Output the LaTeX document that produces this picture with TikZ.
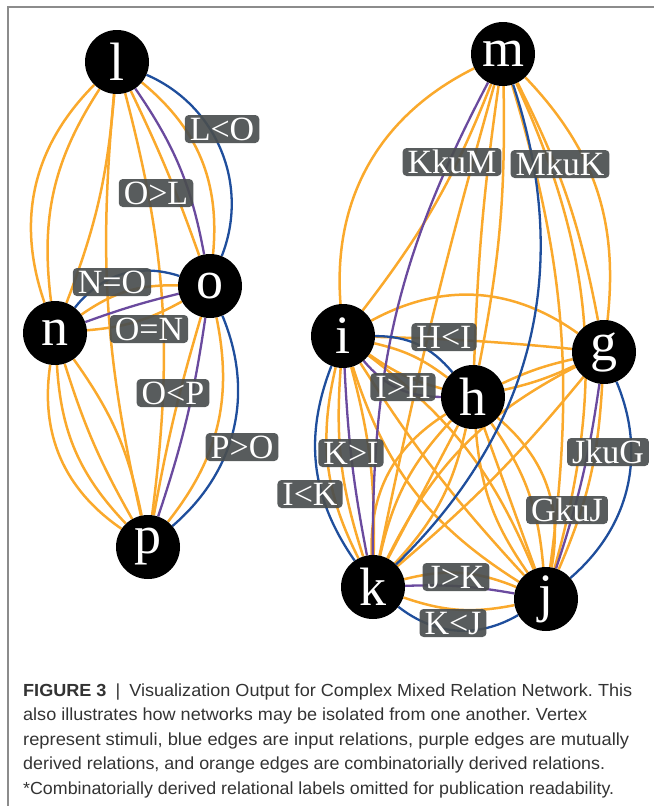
\documentclass[tikz,border=0pt]{standalone}
\usepackage{fontspec}
\setmainfont{Liberation Serif}
\newfontfamily\capfont{Liberation Sans}
\definecolor{eorange}{HTML}{FAA92C}
\definecolor{eblue}{HTML}{1F4E9C}
\definecolor{epurple}{HTML}{6A4A9E}
\definecolor{lblgray}{HTML}{4A4E4F}
\definecolor{framegray}{HTML}{8C8C8C}
\definecolor{captext}{HTML}{333333}
\pgfdeclarelayer{bg}
\pgfsetlayers{bg,main}
\frenchspacing
\begin{document}
\begin{tikzpicture}[x=1pt,y=-1pt,
  vtx/.style={circle,fill=black,minimum size=64pt,inner sep=0pt,text=white,font=\fontsize{54}{54}\selectfont},
  lbl/.style={fill=lblgray,fill opacity=0.92,text opacity=1,text=white,rounded corners=4pt,inner xsep=5pt,inner ysep=2.5pt,text height=23pt,text depth=0pt,font=\fontsize{34}{34}\selectfont},
  oe/.style={draw=eorange,line width=2.5pt},
  be/.style={draw=eblue,line width=2.3pt},
  pe/.style={draw=epurple,line width=2.3pt},
  capline/.style={anchor=base west,inner sep=0pt,text=captext,font=\capfont\fontsize{17.5}{20}\selectfont},
]
\useasboundingbox (0,0) rectangle (654,806);
\draw[framegray,line width=1.2pt] (8,806) -- (8,7) -- (654,7);

% vertices
\node[vtx] (l) at (117,62) {l};
\node[vtx] (o) at (210,286) {o};
\node[vtx] (n) at (55,333) {n};
\node[vtx] (p) at (148,547) {p};
\node[vtx] (m) at (503,54) {m};
\node[vtx] (i) at (343,336) {i};
\node[vtx] (g) at (604,352) {g};
\node[vtx] (h) at (473,397) {h};
\node[vtx] (k) at (373,587) {k};
\node[vtx] (j) at (546,599) {j};

\begin{pgfonlayer}{bg}
% ---- left component ----
\draw[oe] (l) to[bend right=32] (n);
\draw[oe] (l) to[bend right=20] (n);
\draw[oe] (l) to[bend left=8] (n);
\draw[oe] (l) to[bend right=9] (p);
\draw[oe] (l) to[bend left=11] (p);
\draw[oe] (l) to[bend left=28] (o);
\draw[oe] (l) to[bend left=3] (o);
\draw[pe] (l) to[bend left=12] (o);
\draw[be] (l) to[bend left=44] (o);
\draw[be] (n) to[bend left=35] (o);
\draw[oe] (n) to[bend left=18] (o);
\draw[pe] (n) to[bend left=3] (o);
\draw[oe] (n) to[bend right=12] (o);
\draw[oe] (n) to[bend right=32] (p);
\draw[oe] (n) to[bend right=20] (p);
\draw[oe] (n) to[bend right=6] (p);
\draw[oe] (n) to[bend left=12] (p);
\draw[be] (o) to[bend left=36] (p);
\draw[oe] (o) to[bend left=25] (p);
\draw[pe] (o) to[bend left=5] (p);
\draw[oe] (o) to[bend right=3] (p);
% ---- right component ----
\draw[oe] (m) to[bend right=34] (i);
\draw[oe] (m) to[bend left=8] (i);
\draw[oe] (m) to[bend right=2] (k);
\draw[oe] (m) to[bend right=3] (h);
\draw[oe] (m) to[bend left=6] (h);
\draw[oe] (m) to[bend left=12] (j);
\draw[oe] (m) to[bend left=20] (j);
\draw[oe] (m) to[bend left=25] (g);
\draw[oe] (m) to[bend left=8] (g);
\draw[oe] (i) to[bend left=32] (g);
\draw[oe] (i) to[bend left=2] (g);
\draw[oe] (i) to[bend left=12] (h);
\draw[oe] (i) to[bend right=10] (h);
\draw[oe] (i) to[bend right=20] (k);
\draw[oe] (i) to[bend right=11] (k);
\draw[oe] (i) to[bend left=8] (k);
\draw[oe] (i) to[bend left=15] (j);
\draw[oe] (i) to[bend right=5] (j);
\draw[oe] (i) to[bend right=20] (j);
\draw[oe] (g) to[bend right=6] (h);
\draw[oe] (g) to[bend left=6] (h);
\draw[oe] (g) to[bend right=18] (k);
\draw[oe] (g) to[bend left=5] (k);
\draw[oe] (g) to[bend left=10] (j);
\draw[oe] (h) to[bend left=15] (k);
\draw[oe] (h) to (k);
\draw[oe] (h) to[bend right=15] (k);
\draw[oe] (h) to[bend right=30] (k);
\draw[oe] (h) to[bend left=15] (j);
\draw[oe] (h) to (j);
\draw[oe] (h) to[bend right=15] (j);
\draw[oe] (h) to[bend left=30] (j);
\draw[oe] (k) to[bend left=18] (j);
\draw[oe] (k) to[bend right=15] (j);
\draw[pe] (m) to[bend right=14] (k);
\draw[be] (m) to[bend left=32] (k);
\draw[be] (i) to[bend left=25] (h);
\draw[pe] (i) to[bend right=25] (h);
\draw[be] (i) to[bend right=28] (k);
\draw[pe] (i) to[bend right=4] (k);
\draw[be] (g) to[bend left=36] (j);
\draw[pe] (g) to[bend left=5] (j);
\draw[be] (k) to[bend right=34] (j);
\draw[pe] (k) to[bend left=6] (j);
\end{pgfonlayer}

% labels
\node[lbl] (lLO) at (222,129) {L<O};
\node[lbl] (lOL) at (156,193) {O>L};
\node[lbl] (lNO) at (112,282) {N=O};
\node[lbl] (lON) at (149,329) {O=N};
\node[lbl] (lOP) at (173,393) {O<P};
\node[lbl] (lPO) at (242,447) {P>O};
\node[lbl] (lIK) at (310,494) {I<K};
\node[lbl] (lKI) at (351,453) {K>I};
\node[lbl] (lHI) at (444,337) {H<I};
\node[lbl] (lIH) at (403,387) {I>H};
\node[lbl] (lKM) at (452,162) {KkuM};
\node[lbl] (lMK) at (560,164) {MkuK};
\node[lbl] (lJG) at (608,452) {JkuG};
\node[lbl] (lGJ) at (567,510) {GkuJ};
\node[lbl] (lJK) at (456,577) {J>K};
\node[lbl] (lKJ) at (453,623) {K<J};

% caption
\node[capline] (c1) at (23,696) {\resizebox{609pt}{\height}{\textbf{FIGURE 3}\enspace|\enspace Visualization Output for Complex Mixed Relation Network. This}};
\node[capline] (c2) at (23,720.5) {\resizebox{564pt}{\height}{also illustrates how networks may be isolated from one another. Vertex}};
\node[capline] (c3) at (23,745) {\resizebox{606pt}{\height}{represent stimuli, blue edges are input relations, purple edges are mutually}};
\node[capline] (c4) at (23,769.5) {\resizebox{582pt}{\height}{derived relations, and orange edges are combinatorially derived relations.}};
\node[capline] (c5) at (23,794) {\resizebox{591pt}{\height}{*Combinatorially derived relational labels omitted for publication readability.}};
\end{tikzpicture}
\end{document}
